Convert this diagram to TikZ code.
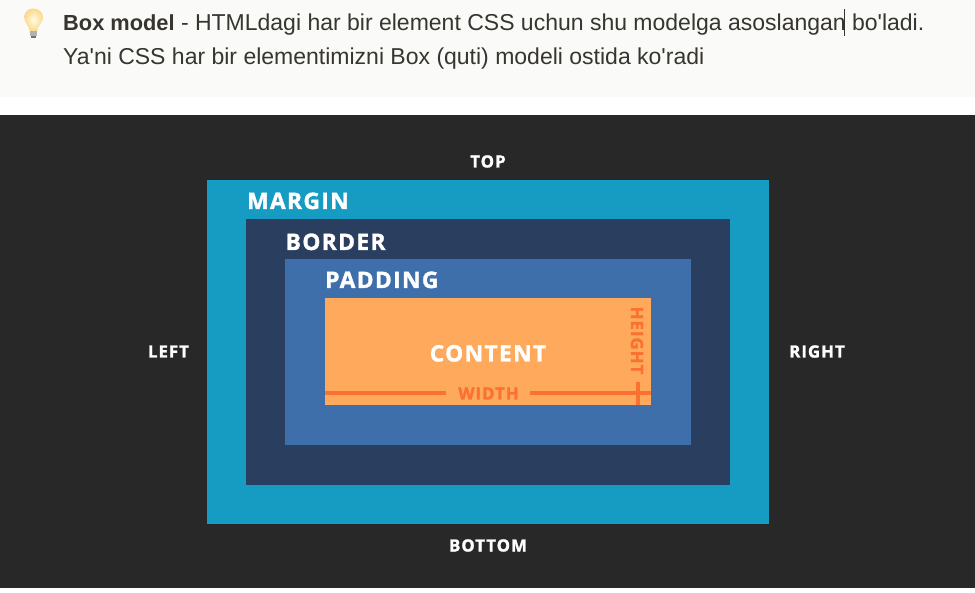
\documentclass[tikz,border=0pt]{standalone}
\usepackage{fontspec}
\newfontfamily\notefont{Liberation Sans}
\newfontfamily\labfont[LetterSpace=6,BoldFeatures={FakeBold=1.5}]{Open Sans}
\definecolor{notebg}{HTML}{FAFAF8}
\definecolor{dark}{HTML}{282828}
\definecolor{marginc}{HTML}{169CC3}
\definecolor{borderc}{HTML}{2A3E5F}
\definecolor{paddingc}{HTML}{3F6FAB}
\definecolor{contentc}{HTML}{FEA95C}
\definecolor{measure}{HTML}{FB7130}
\definecolor{ink}{HTML}{37352F}
\definecolor{bulbin}{HTML}{FFFBE6}
\definecolor{bulbout}{HTML}{FCD98A}
\tikzset{
  boxlabel/.style={font=\labfont\bfseries\fontsize{22.75}{23}\selectfont,text=white,inner sep=0pt,anchor=base west},
  sidelabel/.style={font=\labfont\bfseries\fontsize{16.8}{17}\selectfont,text=white,inner sep=0pt,anchor=base},
  mlabel/.style={font=\labfont\bfseries\fontsize{16.8}{17}\selectfont,text=measure,inner sep=0pt},
  mline/.style={draw=measure,line width=3.4pt},
  note/.style={font=\notefont\fontsize{23}{26}\selectfont,text=ink,inner sep=0pt,anchor=base west}
}
\begin{document}
\begin{tikzpicture}[x=1pt,y=-1pt]
\useasboundingbox (0,0) rectangle (975,593);
\fill[white] (0,0) rectangle (975,593);
\fill[notebg] (0,0) rectangle (975,97);
\fill[dark] (0,115) rectangle (975,588);
% note text
\node[note] (l1) at (63,31) {{\fontsize{21.8}{26}\selectfont\textbf{Box model}} - HTMLdagi har bir element CSS uchun shu modelga asoslangan bo'ladi.};
\node[note] (l2) at (63,65) {Ya'ni CSS har bir elementimizni Box (quti) modeli ostida ko'radi};
\fill[ink] (843.6,9) rectangle (844.6,36);
% bulb
\shade[inner color=bulbin,outer color=bulbout,draw=none]
  (33.3,8.5) .. controls (27,8.5) and (24.3,13) .. (24.3,17.5)
  .. controls (24.3,22.5) and (28.5,25) .. (29.6,31)
  -- (37.2,31) .. controls (38.2,25) and (43,22.5) .. (43,17.5)
  .. controls (43,13) and (39.5,8.5) .. (33.3,8.5) -- cycle;
\fill[gray!60] (29.8,31) rectangle (37,36);
\fill[gray!90!black] (31,36) rectangle (35.8,38);
% boxes
\fill[marginc] (207,180) rectangle (769,524);
\fill[borderc] (246,219) rectangle (730,485);
\fill[paddingc] (285,259) rectangle (691,445);
\fill[contentc] (325,298) rectangle (651,405);
% labels
\node[boxlabel] (margin) at (247,209) {MARGIN};
\node[boxlabel] (border) at (285.5,250) {BORDER};
\node[boxlabel] (padding) at (325,288) {PADDING};
\node[boxlabel,anchor=base] (content) at (488,361.5) {CONTENT};
\node[sidelabel] (top) at (488,167.5) {TOP};
\node[sidelabel] (bottom) at (488,551.5) {BOTTOM};
\node[sidelabel] (left) at (168.5,357.5) {LEFT};
\node[sidelabel] (right) at (817,357.5) {RIGHT};
% measures
\node[mlabel] (width) at (488.5,393.5) {WIDTH};
\node[mlabel,rotate=-90] (height) at (637,340.5) {HEIGHT};
\coordinate (wl) at (325,393);
\coordinate (wr) at (651,393);
\coordinate (wa) at (446,393);
\coordinate (wb) at (530,393);
\coordinate (ht) at (638,382);
\coordinate (hb) at (638,405);
\draw[mline] (wl) -- (wa);
\draw[mline] (wb) -- (wr);
\draw[mline] (ht) -- (hb);
\end{tikzpicture}
\end{document}
